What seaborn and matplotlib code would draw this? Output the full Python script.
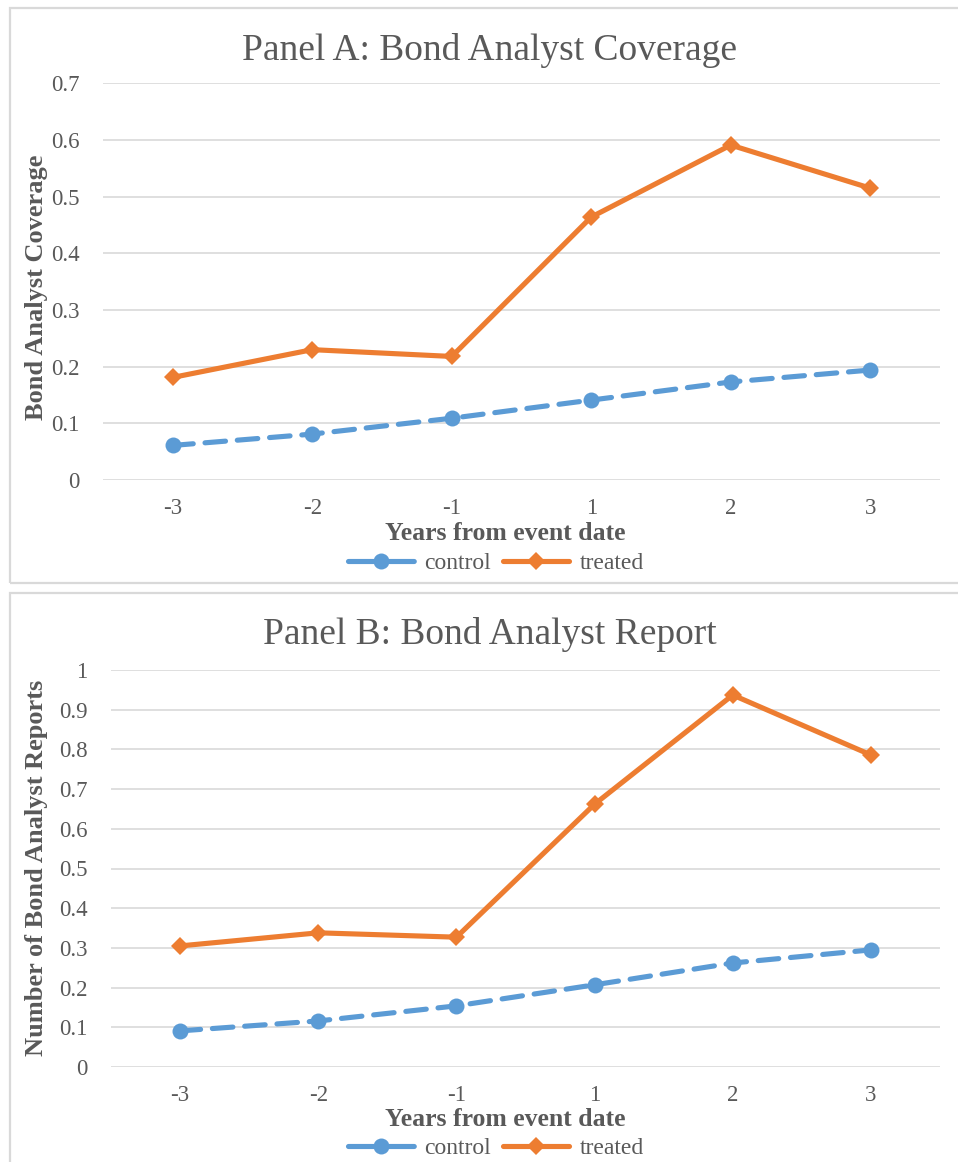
import matplotlib
matplotlib.use("Agg")
import matplotlib.pyplot as plt
from matplotlib.patches import Rectangle
from matplotlib.lines import Line2D
import seaborn as sns
import pandas as pd

# Event-time categories (years relative to the event date)
years = ["-3", "-2", "-1", "1", "2", "3"]

# Panel A: bond analyst coverage
coverage_control = [0.061, 0.081, 0.109, 0.141, 0.173, 0.194]
coverage_treated = [0.181, 0.230, 0.218, 0.464, 0.591, 0.515]

# Panel B: number of bond analyst reports
reports_control = [0.091, 0.116, 0.154, 0.207, 0.262, 0.295]
reports_treated = [0.305, 0.338, 0.327, 0.662, 0.937, 0.786]

groups = ["control", "treated"]

BLUE = "#5B9BD5"
ORANGE = "#ED7D31"
TEXT = "#595959"
GRID = "#D9D9D9"
SERIF = ["Liberation Serif", "DejaVu Serif"]
LW = 3.7
DASH = (4.0, 2.3)
LEGEND_DASH = (5.4, 2.0)
MS_CIRCLE = 11.5
MS_DIAMOND = 9.5

sns.set_theme(style="white")
plt.rcParams["font.family"] = SERIF
plt.rcParams["text.color"] = TEXT

W, H = 958, 1162
fig = plt.figure(figsize=(W / 100, H / 100), dpi=100)


def px(x, y):
    return x / W, 1 - y / H


def long_frame(control, treated):
    return pd.DataFrame({
        "year": years * 2,
        "value": control + treated,
        "group": [groups[0]] * len(years) + [groups[1]] * len(years),
    })


def panel(box, axes_px, title, title_y, control, treated, ymax, ystep,
          ylabel, yfmt, xlabel_y, legend_y, ylabel_center):
    # chart-area frame
    bx0, by0, bx1, by1 = box
    fig.patches.append(Rectangle(px(bx0, by1), (bx1 - bx0) / W, (by1 - by0) / H,
                                 transform=fig.transFigure, fill=False,
                                 edgecolor=GRID, linewidth=1.6, zorder=0))
    x0, y0, x1, y1 = axes_px
    l, b = px(x0, y1)
    ax = fig.add_axes([l, b, (x1 - x0) / W, (y1 - y0) / H])

    df = long_frame(control, treated)
    sns.lineplot(data=df, x="year", y="value", hue="group", style="group",
                 palette={"control": BLUE, "treated": ORANGE},
                 dashes={"control": DASH, "treated": ""},
                 markers={"control": "o", "treated": "D"},
                 linewidth=LW, legend=False, ax=ax, zorder=3,
                 sort=False)
    for ln in ax.lines:
        ln.set_dash_capstyle("round")
        ln.set_solid_joinstyle("round")
        if ln.get_marker() == "o":
            ln.set_markersize(MS_CIRCLE)
        else:
            ln.set_markersize(MS_DIAMOND)
        ln.set_markeredgewidth(0)

    ax.set_xlim(-0.5, len(years) - 0.5)
    ax.set_ylim(0, ymax)
    ticks = [i * ystep for i in range(int(round(ymax / ystep)) + 1)]
    ax.set_yticks(ticks)
    ax.set_yticklabels([yfmt(t) for t in ticks])
    ax.grid(axis="y", color=GRID, linewidth=1.2, zorder=0)
    ax.grid(axis="x", visible=False)
    for s in ax.spines.values():
        s.set_visible(False)
    ax.tick_params(axis="y", length=0, pad=17, labelsize=16.5, labelcolor=TEXT)
    ax.tick_params(axis="x", length=0, pad=13, labelsize=16.5, labelcolor=TEXT)
    for t in ax.get_xticklabels() + ax.get_yticklabels():
        t.set_family(SERIF)
    ax.set_xlabel("")
    ax.set_ylabel(ylabel, fontsize=19, fontweight="bold", color=TEXT,
                  family=SERIF)
    ax.yaxis.set_label_coords((48 - x0) / (x1 - x0),
                              (y1 - ylabel_center) / (y1 - y0))

    fig.text(*px(490, title_y), title, ha="center", va="center",
             fontsize=27, color=TEXT, family=SERIF)
    fig.text(*px(505, xlabel_y), "Years from event date", ha="center",
             va="center", fontsize=18.5, fontweight="bold", color=TEXT,
             family=SERIF)

    handles = [
        Line2D([], [], color=BLUE, linewidth=LW, linestyle=(0, LEGEND_DASH),
               dash_capstyle="round", marker="o", markersize=MS_CIRCLE,
               markeredgewidth=0),
        Line2D([], [], color=ORANGE, linewidth=LW, marker="D",
               markersize=MS_DIAMOND, markeredgewidth=0),
    ]
    fig.legend(handles, groups, loc="center", bbox_to_anchor=px(496, legend_y),
               ncol=2, frameon=False, handlelength=2.8,
               handletextpad=0.45, columnspacing=0.5, labelcolor=TEXT,
               prop={"family": SERIF, "size": 17})
    return ax


panel(box=(10, 8, 975, 583), axes_px=(103, 83.3, 940, 480),
      title="Panel A: Bond Analyst Coverage", title_y=50,
      control=coverage_control, treated=coverage_treated,
      ymax=0.7, ystep=0.1, ylabel="Bond Analyst Coverage",
      yfmt=lambda t: "0" if t == 0 else f"{t:.1f}",
      xlabel_y=533, legend_y=563, ylabel_center=287)

panel(box=(10, 593, 975, 1175), axes_px=(111, 670, 940, 1067),
      title="Panel B: Bond Analyst Report", title_y=635,
      control=reports_control, treated=reports_treated,
      ymax=1.0, ystep=0.1, ylabel="Number of Bond Analyst Reports",
      yfmt=lambda t: "0" if t == 0 else ("1" if abs(t - 1) < 1e-9 else f"{t:.1f}"),
      xlabel_y=1119, legend_y=1148, ylabel_center=868)

fig.savefig("out.png", dpi=100, facecolor="white")
